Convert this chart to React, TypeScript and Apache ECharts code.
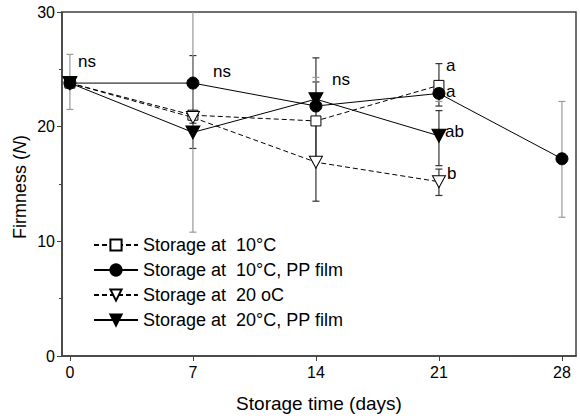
import React, { useEffect, useRef } from "react";
import * as echarts from "echarts";

const xTicks = [0, 7, 14, 21, 28];
const seriesNames = [
  "Storage at  10°C",
  "Storage at  10°C, PP film",
  "Storage at  20 oC",
  "Storage at  20°C, PP film",
];

const days10 = [0, 7, 14, 21];
const firm10 = [23.8, 21.0, 20.5, 23.6];
const lo10 = [23.8, 20.6, 16.9, 21.8];
const hi10 = [23.8, 26.2, 23.9, 25.5];

const days10PP = [0, 7, 14, 21, 28];
const firm10PP = [23.8, 23.8, 21.8, 22.9, 17.2];
const lo10PP = [21.5, 10.8, 20.5, 22.2, 12.1];
const hi10PP = [26.3, 36.8, 24.3, 23.6, 22.2];

const days20 = [0, 7, 14, 21];
const firm20 = [23.8, 20.8, 16.9, 15.2];
const lo20 = [23.8, 20.3, 13.5, 14.0];
const hi20 = [23.8, 21.3, 20.3, 16.3];

const days20PP = [0, 7, 14, 21];
const firm20PP = [23.8, 19.5, 22.4, 19.2];
const lo20PP = [23.8, 18.1, 20.6, 16.6];
const hi20PP = [23.8, 20.9, 26.0, 21.4];

// significance letters: anchor (left edge, vertical middle) in data units
const annoX = [0.46, 8.14, 14.92, 21.4, 21.4, 21.35, 21.46];
const annoY = [25.7, 24.8, 24.1, 25.3, 23.1, 19.6, 15.9];
const annoText = ["ns", "ns", "ns", "a", "a", "ab", "b"];

const FONT = "'Liberation Sans', Arial, sans-serif";
const DOWN_TRI = "path://M0,0 L12,0 L6,11 Z";

function errSeries(days: number[], lo: number[], hi: number[], color: string, z: number) {
  return {
    type: "custom",
    z,
    silent: true,
    encode: { x: 0, y: [1, 2] },
    data: days.map((d, i) => [d, lo[i], hi[i]]),
    renderItem: (params: any, api: any) => {
      const x = api.value(0);
      const lo = api.value(1);
      const hi = api.value(2);
      if (lo === hi) return null;
      const cs = params.coordSys;
      const pLo = api.coord([x, lo]);
      const pHi = api.coord([x, hi]);
      const style = { stroke: color, lineWidth: 1.2, fill: "none" };
      const w = 3.5;
      const children: any[] = [];
      let yTop = pHi[1];
      let topCap = true;
      if (yTop < cs.y) {
        yTop = cs.y;
        topCap = false;
      }
      children.push({ type: "line", shape: { x1: pLo[0], y1: pLo[1], x2: pHi[0], y2: yTop }, style });
      children.push({ type: "line", shape: { x1: pLo[0] - w, y1: pLo[1], x2: pLo[0] + w, y2: pLo[1] }, style });
      if (topCap) {
        children.push({ type: "line", shape: { x1: pHi[0] - w, y1: pHi[1], x2: pHi[0] + w, y2: pHi[1] }, style });
      }
      return { type: "group", children };
    },
  };
}

function lineSeries(name: string, days: number[], vals: number[], symbol: string, size: any, fill: string, dashed: boolean) {
  return {
    name,
    type: "line",
    z: 3,
    data: days.map((d, i) => [d, vals[i]]),
    symbol,
    symbolSize: size,
    showAllSymbol: true,
    itemStyle: { color: fill, borderColor: "#000", borderWidth: 1 },
    lineStyle: { color: "#000", width: 1, type: dashed ? [5, 3] : "solid" },
  };
}

export default function App() {
  const ref = useRef<HTMLDivElement>(null);
  useEffect(() => {
    if (!ref.current) return;
    const chart = echarts.init(ref.current, undefined, { renderer: "svg" });
    chart.setOption({
      animation: false,
      backgroundColor: "#fff",
      textStyle: { fontFamily: FONT },
      grid: {
        left: 62,
        top: 12,
        right: 4,
        bottom: 60,
        show: true,
        borderColor: "#404040",
        borderWidth: 1.5,
        backgroundColor: "transparent",
      },
      graphic: [
        {
          type: "text",
          x: 20,
          y: 187,
          rotation: Math.PI / 2,
          style: {
            text: "{a|Firmness (}{i|N}{a|)}",
            rich: {
              a: { fontSize: 18, fill: "#000", fontFamily: FONT },
              i: { fontSize: 18, fill: "#000", fontFamily: FONT, fontStyle: "italic" },
            },
            fill: "#000",
            font: `18px ${FONT}`,
            textAlign: "center",
            textVerticalAlign: "middle",
          },
        },
      ],
      legend: {
        orient: "vertical",
        left: 88,
        top: 231,
        itemWidth: 44,
        itemHeight: 14,
        itemGap: 7,
        selectedMode: false,
        data: seriesNames,
        textStyle: { fontSize: 18, color: "#000", fontFamily: FONT },
      },
      xAxis: {
        type: "value",
        min: -0.45,
        max: 28.8,
        name: "Storage time (days)",
        nameLocation: "middle",
        nameGap: 38,
        nameTextStyle: { fontSize: 19, color: "#000", fontFamily: FONT },
        splitLine: { show: false },
        axisLine: { show: true, onZero: false, lineStyle: { color: "#404040", width: 1.5 } },
        axisTick: { show: true, length: 5, customValues: xTicks, lineStyle: { color: "#404040" } },
        axisLabel: { customValues: xTicks, fontSize: 16, color: "#000", margin: 8, fontFamily: FONT },
      },
      yAxis: {
        type: "value",
        min: 0,
        max: 30,
        interval: 10,
        splitLine: { show: false },
        axisLine: { show: true, onZero: false, lineStyle: { color: "#404040", width: 1.5 } },
        axisTick: { show: true, length: 5, lineStyle: { color: "#404040" } },
        minorTick: { show: true, splitNumber: 2, length: 3, lineStyle: { color: "#404040" } },
        axisLabel: { fontSize: 16, color: "#000", margin: 7, fontFamily: FONT },
      },
      series: [
        errSeries(days10, lo10, hi10, "#333", 1),
        errSeries(days20, lo20, hi20, "#333", 1),
        errSeries(days20PP, lo20PP, hi20PP, "#333", 1),
        errSeries(days10PP, lo10PP, hi10PP, "#999", 2),
        lineSeries(seriesNames[0], days10, firm10, "rect", 10, "#fff", true),
        lineSeries(seriesNames[1], days10PP, firm10PP, "circle", 12, "#000", false),
        lineSeries(seriesNames[2], days20, firm20, DOWN_TRI, [13, 12], "#fff", true),
        lineSeries(seriesNames[3], days20PP, firm20PP, DOWN_TRI, [14, 13], "#000", false),
        {
          type: "custom",
          z: 5,
          silent: true,
          data: annoX.map((x, i) => [x, annoY[i], i]),
          encode: { x: 0, y: 1 },
          renderItem: (params: any, api: any) => {
            const p = api.coord([api.value(0), api.value(1)]);
            const idx = api.value(2);
            return {
              type: "text",
              x: p[0],
              y: p[1],
              style: {
                text: annoText[idx],
                fill: "#000",
                font: `17px ${FONT}`,
                textAlign: "left",
                textVerticalAlign: "middle",
              },
            };
          },
        },
      ],
    });
    return () => chart.dispose();
  }, []);
  return <div ref={ref} style={{ width: 580, height: 418, position: "absolute", left: 0, top: 0 }} />;
}
